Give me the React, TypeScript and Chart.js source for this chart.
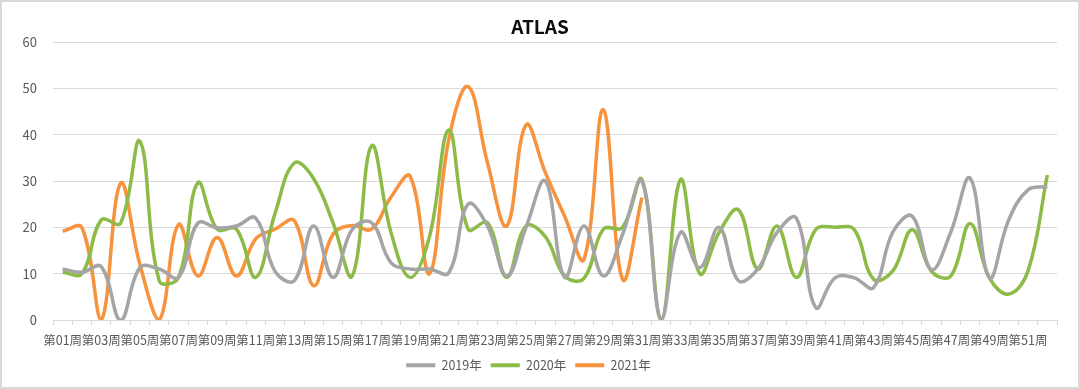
import React, { useEffect, useRef } from "react";
import { Chart, registerables } from "chart.js";

Chart.register(...registerables);

const weeks: string[] = Array.from({ length: 52 }, (_, i) => `第${String(i + 1).padStart(2, "0")}周`);

const series2019: number[] = [
  11, 10.3, 11.5, 0, 11.3, 11, 9.2, 20.9, 19.9, 20.3,
  22, 10.5, 8.5, 20.3, 9.2, 19.6, 21, 12.4, 11, 11,
  10.2, 25, 20.3, 9.5, 20, 30, 9.2, 20.3, 9.5, 18.5,
  30, 0, 18.9, 11.3, 20, 8.5, 11, 18.9, 22, 2.7,
  9.1, 9.1, 7, 19, 22.4, 10.9, 19, 30.6, 9.1, 21.6,
  28.1, 28.8,
];

const series2020: number[] = [
  10.3, 10, 21.6, 20.9, 38.6, 8.5, 9.2, 29.6, 19.6, 19.6,
  9.2, 23, 33.9, 30.5, 21, 9.5, 37.6, 19, 9.2, 18,
  41, 19.6, 21, 9.2, 20.3, 18, 9.5, 9, 19.6, 20,
  30.3, 0, 30.3, 10, 18.9, 23.8, 11, 20.3, 9.2, 19.5,
  20, 19.5, 8.8, 10.6, 19.5, 10.5, 9.5, 20.8, 9.1, 5.6,
  10.6, 31.3,
];

const series2021: number[] = [
  19.2, 19.9, 0, 29.5, 12, 0, 20.6, 9.5, 17.8, 9.5,
  17.5, 19.6, 21.4, 7.4, 18.5, 20.4, 19.6, 26.5, 31, 10,
  39, 50.4, 34, 20.3, 42.1, 31.8, 22.4, 13.1, 45.4, 8.8,
  26.4,
];

const seriesNames: string[] = ["2019年", "2020年", "2021年"];
const seriesColors: string[] = ["#A5A5A5", "#8DBB47", "#F7923D"];
const yTicks: number[] = [0, 10, 20, 30, 40, 50, 60];
const chartTitle = "ATLAS";

const FONT = '"Noto Sans CJK SC", "Noto Sans", sans-serif';

const centeredTitle = {
  id: "centeredTitle",
  afterDraw(chart: any) {
    const ctx = chart.ctx;
    ctx.save();
    ctx.font = `bold 19px ${FONT}`;
    ctx.fillStyle = "#0D0D0D";
    ctx.textAlign = "center";
    ctx.textBaseline = "middle";
    ctx.fillText(chartTitle, chart.width / 2, 27);
    ctx.restore();
  },
};

export default function App() {
  const canvasRef = useRef<HTMLCanvasElement | null>(null);

  useEffect(() => {
    document.body.style.margin = "0";
    const canvas = canvasRef.current;
    if (!canvas) return;
    const allSeries = [series2019, series2020, series2021];
    const chart = new Chart(canvas, {
      type: "line",
      data: {
        labels: weeks,
        datasets: allSeries.map((d, i) => ({
          label: seriesNames[i],
          data: d,
          borderColor: seriesColors[i],
          backgroundColor: seriesColors[i],
          borderWidth: 3.5,
          pointRadius: 0,
          pointHoverRadius: 0,
          tension: 0.4,
          fill: false,
        })),
      },
      plugins: [centeredTitle],
      options: {
        responsive: false,
        animation: false,
        layout: { padding: { left: 0, right: 23, top: 42, bottom: 7.5 } },
        plugins: {
          title: { display: false },
          legend: {
            position: "bottom",
            labels: {
              color: "#595959",
              font: { family: FONT, size: 12.5 },
              boxWidth: 29,
              boxHeight: 4,
              padding: 9,
              generateLabels: (c: any) =>
                c.data.datasets.map((ds: any, i: number) => ({
                  text: ds.label,
                  fillStyle: ds.borderColor,
                  strokeStyle: ds.borderColor,
                  lineWidth: 0,
                  hidden: false,
                  datasetIndex: i,
                  fontColor: "#595959",
                })),
            },
          },
          tooltip: { enabled: false },
        },
        scales: {
          x: {
            offset: true,
            afterFit: (scale: any) => {
              scale.height = 30;
            },
            grid: {
              offset: true,
              drawOnChartArea: false,
              drawTicks: true,
              tickLength: 5,
              color: "#D9D9D9",
            },
            border: { display: true, color: "#D9D9D9" },
            ticks: {
              autoSkip: false,
              maxRotation: 0,
              minRotation: 0,
              padding: 8,
              color: "#595959",
              font: { family: FONT, size: 12.5 },
              callback: (_v: any, idx: number) => (idx % 2 === 0 ? weeks[idx] : ""),
            },
          },
          y: {
            min: yTicks[0],
            max: yTicks[yTicks.length - 1],
            afterFit: (scale: any) => {
              scale.width = 53;
            },
            grid: { color: "#D9D9D9", drawTicks: false },
            border: { display: false },
            ticks: {
              stepSize: 10,
              padding: 16,
              color: "#595959",
              font: { family: FONT, size: 13 },
            },
          },
        },
      },
    });
    return () => chart.destroy();
  }, []);

  return (
    <div style={{ position: "absolute", left: 0, top: 0, width: 1080, height: 389, background: "#fff" }}>
      <canvas ref={canvasRef} width={1080} height={389} style={{ display: "block" }} />
      <div
        style={{
          position: "absolute",
          left: 0,
          top: 0,
          width: 1080,
          height: 389,
          boxSizing: "border-box",
          border: "2px solid #D9D9D9",
          pointerEvents: "none",
        }}
      />
    </div>
  );
}
